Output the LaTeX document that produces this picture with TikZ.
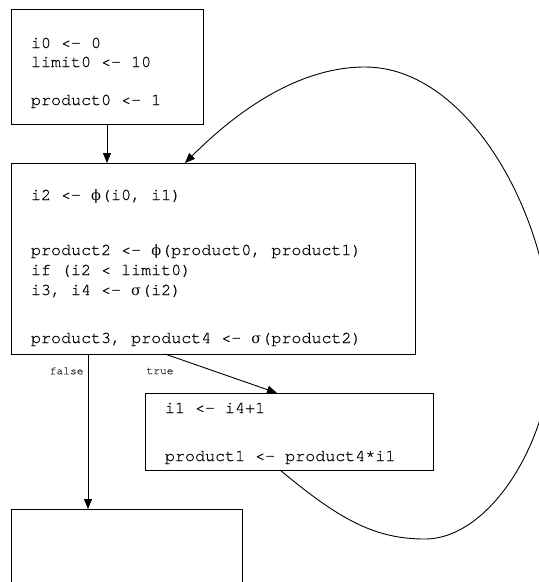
\documentclass[tikz,border=0pt]{standalone}
\usepackage{fontspec}
\setmonofont[FakeBold=0.6]{TeX Gyre Cursor}
\newfontfamily\grk{DejaVu Serif}
\newcommand{\gk}[1]{\makebox[10pt][c]{\grk\fontsize{14.5}{19}\selectfont #1}}
\usetikzlibrary{arrows.meta}

\begin{document}
\begin{tikzpicture}[x=1pt,y=-1pt]
\tikzstyle{block}=[draw,line width=1pt,anchor=north west,align=left,inner xsep=20pt,inner ysep=0pt,outer sep=0pt,font=\ttfamily\fontsize{16.7}{19}\selectfont,execute at begin node={\spaceskip=10pt\relax}]
\tikzstyle{flow}=[line width=0.9pt,-{Triangle[length=10pt,width=8pt]}]
\tikzstyle{edgelabel}=[font=\ttfamily\fontsize{11.3}{13}\selectfont,text=black!80,inner sep=0pt]
\useasboundingbox (0,0) rectangle (539,582);

\path (11,9) node[block,text width=152pt,text height=39pt,text depth=76pt](init){i0 <- 0\\limit0 <- 10\\[19pt]product0 <- 1};
\path (11,163) node[block,text width=364pt,text height=37pt,text depth=154pt](header){i2 <- \gk{ϕ}(i0, i1)\\[36pt]product2 <- \gk{ϕ}(product0, product1)\\[1pt]if (i2 < limit0)\\[1pt]i3, i4 <- \gk{σ}(i2)\\[29pt]product3, product4 <- \gk{σ}(product2)};
\path (145,393) node[block,text width=248pt,text height=20pt,text depth=57pt](body){i1 <- i4+1\\[29pt]product1 <- product4*i1};
\path (11,509) node[block,minimum width=231pt,minimum height=150pt](exit){};

\draw[flow] (init.south) -- (init.south |- header.north);
\draw[flow] ([xshift=77pt]header.south west) -- node[edgelabel,at start,anchor=east,xshift=-4pt,yshift=-17pt]{false} ([xshift=77pt]exit.north west);
\draw[flow] ([xshift=154pt]header.south west) -- node[edgelabel,at start,xshift=-5pt,yshift=-17pt]{true} ([xshift=132pt]body.north west);
\draw[flow] ([xshift=-9pt]body.south) .. controls (340,520) and (375,539) .. (425,539)
  .. controls (490,539) and (552,440) .. (552,345)
  .. controls (552,220) and (470,67) .. (365,67)
  .. controls (290,67) and (225,123) .. ([xshift=174pt]header.north west);
\end{tikzpicture}
\end{document}
